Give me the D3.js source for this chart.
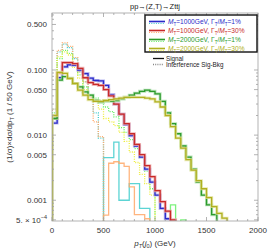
<!DOCTYPE html>
<html>
<head>
<meta charset="utf-8">
<script src="https://cdn.jsdelivr.net/npm/d3@7"></script>
<style>
  body { margin: 0; background: #fff; }
  svg { display: block; font-family: "Liberation Sans", Arial, sans-serif; }
</style>
</head>
<body>
<div id="chart"></div>
<script>
// bins are 50 GeV wide, starting at 0
var BIN = 50;

// signal, normalised
var sigM1000w1 = [0.0153, 0.076, 0.112, 0.12, 0.118, 0.1, 0.088, 0.075, 0.069, 0.068, 0.058, 0.042, 0.03, 0.021, 0.0145, 0.0098, 0.0068, 0.0046, 0.003, 0.0019, 0.0012, 0.00075, 0.00052];
var sigM1000w30 = [0.018, 0.09, 0.13, 0.13, 0.125, 0.106, 0.076, 0.064, 0.06, 0.058, 0.05, 0.04, 0.03, 0.021, 0.015, 0.0105, 0.0072, 0.005, 0.0034, 0.0023, 0.0014, 0.00095, 0.00068, 0.0005];
var sigM2000w1 = [0.018, 0.07, 0.079, 0.075, 0.062, 0.055, 0.046, 0.041, 0.034, 0.032, 0.033, 0.033, 0.034, 0.036, 0.038, 0.041, 0.044, 0.047, 0.049, 0.047, 0.043, 0.033, 0.022, 0.015, 0.0105, 0.0068, 0.0046, 0.003, 0.0019, 0.0012, 0.00085, 0.0006];
var sigM2000w30 = [0.02, 0.092, 0.089, 0.074, 0.062, 0.049, 0.041, 0.035, 0.033, 0.033, 0.034, 0.035, 0.036, 0.037, 0.038, 0.038, 0.038, 0.038, 0.037, 0.036, 0.0325, 0.027, 0.02, 0.0135, 0.009, 0.0063, 0.0042, 0.0029, 0.002, 0.0015, 0.0011, 0.0008, 0.00063, 0.00053];

// interference Sig-Bkg (negative bins are drawn as |value| with a solid line)
var intM1000w1 = [0.025, 0.19, 0.25, 0.22, 0.15, 0.094, 0.066, 0.041, 0.022, 0.009, -0.0045, -0.0045, -0.0078, -0.001, -0.001, -0.0018, -0.0018, -0.00075, -0.00075];
var intM1000w30 = [0.025, 0.2, 0.26, 0.23, 0.155, 0.094, 0.066, 0.038, 0.016, 0.0095, -0.00059, -0.0037, -0.0039, -0.0037, -0.0033, -0.0016, -0.0006, -0.0006, -0.00052];
var intM2000w1 = [0.022, 0.15, 0.2, 0.18, 0.119, 0.084, 0.055, 0.041, 0.037, 0.034, 0.027, 0.023, 0.019, 0.013, 0.011, 0.0085, 0.0062, 0.0045, 0.0028, 0.0015, 0, 0, 0, -0.00085, 0, -0.0005];
var intM2000w30 = [0.02, 0.16, 0.19, 0.17, 0.11, 0.075, 0.05, 0.04, 0.034, 0.025, 0.018, 0.016, 0.014, 0.011, 0.008, 0.0055, 0.0038, 0.0025, 0.0018, 0.0012];

var series = [
  {sig: sigM1000w1, inter: intM1000w1, mt: "1000", w: "1%", col: "#2a2ac8", halo: "#a8a8ee", icol: "#40cccc"},
  {sig: sigM1000w30, inter: intM1000w30, mt: "1000", w: "30%", col: "#c82a2a", halo: "#eea8a8", icol: "#ffa868"},
  {sig: sigM2000w1, inter: intM2000w1, mt: "2000", w: "1%", col: "#2c9a2c", halo: "#a8dca8", icol: "#66ee66"},
  {sig: sigM2000w30, inter: intM2000w30, mt: "2000", w: "30%", col: "#b0b020", halo: "#e4e4a0", icol: "#eeee40"}
];

var xTicks = [0, 500, 1000, 1500, 2000];
var yTicks = [0.5, 0.1, 0.05, 0.01, 0.005, 0.001, 0.0005];

var W = 270, H = 251;
var svg = d3.select("#chart").append("svg").attr("width", W).attr("height", H);

var x = d3.scaleLinear().domain([0, 2000]).range([52, 258]);
var y = d3.scaleLog().domain([0.00048, 0.75]).range([221, 13]);

svg.append("defs").append("clipPath").attr("id", "plot")
  .append("rect").attr("x", x(0)).attr("y", y(0.75)).attr("width", x(2000) - x(0)).attr("height", y(0.00048) - y(0.75));

// step path over the bins where keep(v) holds
function stepPath(vals, keep) {
  var d = "", open = false, bottom = y.range()[0] + 5;
  vals.forEach(function (v, i) {
    var x0 = x(i * BIN), x1 = x((i + 1) * BIN);
    if (keep(v)) {
      var yy = y(Math.abs(v));
      if (!open) { d += "M" + x0 + "," + bottom; open = true; }
      d += "L" + x0 + "," + yy + "L" + x1 + "," + yy;
    } else if (open) {
      d += "L" + x(i * BIN) + "," + bottom; open = false;
    }
  });
  if (open) d += "L" + x(vals.length * BIN) + "," + bottom;
  return d;
}

var plot = svg.append("g").attr("clip-path", "url(#plot)");

// interference first, signal on top
series.forEach(function (s) {
  plot.append("path").attr("d", stepPath(s.inter, function (v) { return v > 0; }))
    .attr("fill", "none").attr("stroke", s.icol).attr("stroke-width", 1.3).attr("stroke-dasharray", "1,1.3");
  plot.append("path").attr("d", stepPath(s.inter, function (v) { return v < 0; }))
    .attr("fill", "none").attr("stroke", s.icol).attr("stroke-width", 1.3).attr("opacity", 0.85);
});
series.forEach(function (s) {
  var d = stepPath(s.sig, function (v) { return v > 0; });
  plot.append("path").attr("d", d).attr("fill", "none").attr("stroke", s.halo).attr("stroke-width", 3).attr("opacity", 0.8);
  plot.append("path").attr("d", d).attr("fill", "none").attr("stroke", s.col).attr("stroke-width", 1.3);
});

// frame and ticks
var frame = svg.append("g").attr("stroke", "#a0a0a0").attr("stroke-width", 0.8);
frame.append("rect").attr("x", x(0)).attr("y", y(0.75)).attr("width", x(2000) - x(0)).attr("height", y(0.00048) - y(0.75)).attr("fill", "none");

var yTop = y(0.75), yBot = y(0.00048);
d3.range(0, 2001, 100).forEach(function (t) {
  var len = t % 500 === 0 ? 4 : 2;
  frame.append("line").attr("x1", x(t)).attr("x2", x(t)).attr("y1", yBot).attr("y2", yBot - len);
  frame.append("line").attr("x1", x(t)).attr("x2", x(t)).attr("y1", yTop).attr("y2", yTop + len);
});
var minorY = [];
[0.0001, 0.001, 0.01, 0.1].forEach(function (dec) {
  for (var k = 1; k < 10; k++) { var v = dec * k; if (v >= 0.00048 && v <= 0.75) minorY.push(v); }
});
minorY.forEach(function (v) {
  var len = yTicks.some(function (t) { return Math.abs(t - v) / v < 1e-6; }) ? 4 : 2;
  frame.append("line").attr("x1", x(0)).attr("x2", x(0) + len).attr("y1", y(v)).attr("y2", y(v));
  frame.append("line").attr("x1", x(2000)).attr("x2", x(2000) - len).attr("y1", y(v)).attr("y2", y(v));
});

var lab = svg.append("g").attr("font-size", 8).attr("fill", "#333");
xTicks.forEach(function (t) {
  lab.append("text").attr("x", x(t)).attr("y", 233).attr("text-anchor", "middle").text(t);
});
yTicks.forEach(function (t) {
  var tx = lab.append("text").attr("x", 47).attr("y", y(t) + 3).attr("text-anchor", "end");
  if (t < 0.001) {
    tx.text("5. \u00d7 10");
    tx.append("tspan").attr("dy", -3.5).attr("font-size", 5.5).text("\u22124");
  } else {
    tx.text(d3.format(".3f")(t));
  }
});

// title and axis labels
svg.append("text").attr("x", 155).attr("y", 9).attr("text-anchor", "middle").attr("font-size", 7.5).attr("fill", "#222")
  .text("pp\u2192(Z,T)\u2192Zttj");

var xl = svg.append("text").attr("x", 155).attr("y", 246).attr("text-anchor", "middle").attr("font-size", 8).attr("fill", "#333");
xl.append("tspan").attr("font-style", "italic").text("p");
xl.append("tspan").attr("font-style", "italic").attr("font-size", 5.5).attr("dy", 1.5).text("T");
xl.append("tspan").attr("dy", -1.5).text("(");
xl.append("tspan").attr("font-style", "italic").text("j");
xl.append("tspan").attr("font-size", 5.5).attr("dy", 1.5).text("0");
xl.append("tspan").attr("dy", -1.5).text(") (GeV)");

var yl = svg.append("text").attr("transform", "translate(12," + ((yTop + yBot) / 2) + ") rotate(-90)")
  .attr("text-anchor", "middle").attr("font-size", 8).attr("fill", "#333");
yl.append("tspan").text("(1/\u03c3)\u00d7d\u03c3/dp");
yl.append("tspan").attr("font-size", 5.5).attr("dy", 1.5).text("T");
yl.append("tspan").attr("dy", -1.5).text(" (1 / 50 GeV)");

// legend
var lg = svg.append("g");
lg.append("rect").attr("x", 145).attr("y", 15).attr("width", 112).attr("height", 37)
  .attr("fill", "#fff").attr("stroke", "#111").attr("stroke-width", 1.4);
series.forEach(function (s, i) {
  var ly = 22 + i * 9;
  lg.append("line").attr("x1", 149).attr("x2", 165).attr("y1", ly + 1.5).attr("y2", ly + 1.5)
    .attr("stroke", s.icol).attr("stroke-width", 1.2).attr("stroke-dasharray", "1,1.3");
  lg.append("line").attr("x1", 149).attr("x2", 165).attr("y1", ly - 0.5).attr("y2", ly - 0.5)
    .attr("stroke", s.halo).attr("stroke-width", 2.4);
  lg.append("line").attr("x1", 149).attr("x2", 165).attr("y1", ly - 0.5).attr("y2", ly - 0.5)
    .attr("stroke", s.col).attr("stroke-width", 1.1);
  var t = lg.append("text").attr("x", 168).attr("y", ly + 2.3).attr("font-size", 6.6).attr("fill", s.col);
  t.append("tspan").attr("font-style", "italic").text("M");
  t.append("tspan").attr("font-size", 4.5).attr("dy", 1.3).text("T");
  t.append("tspan").attr("dy", -1.3).text("=" + s.mt + "GeV, \u0393");
  t.append("tspan").attr("font-size", 4.5).attr("dy", 1.3).text("T");
  t.append("tspan").attr("dy", -1.3).text("/");
  t.append("tspan").attr("font-style", "italic").text("M");
  t.append("tspan").attr("font-size", 4.5).attr("dy", 1.3).text("T");
  t.append("tspan").attr("dy", -1.3).text("=" + s.w);
});

var kinds = [{name: "Signal", dash: null, col: "#111"}, {name: "Interference Sig-Bkg", dash: "1,1.2", col: "#888"}];
kinds.forEach(function (k, i) {
  var ly = 58.5 + i * 6;
  var ln = lg.append("line").attr("x1", 153).attr("x2", 164).attr("y1", ly).attr("y2", ly)
    .attr("stroke", k.col).attr("stroke-width", 1.3);
  if (k.dash) ln.attr("stroke-dasharray", k.dash);
  lg.append("text").attr("x", 166).attr("y", ly + 2).attr("font-size", 6.3).attr("fill", "#222").text(k.name);
});
</script>
</body>
</html>
